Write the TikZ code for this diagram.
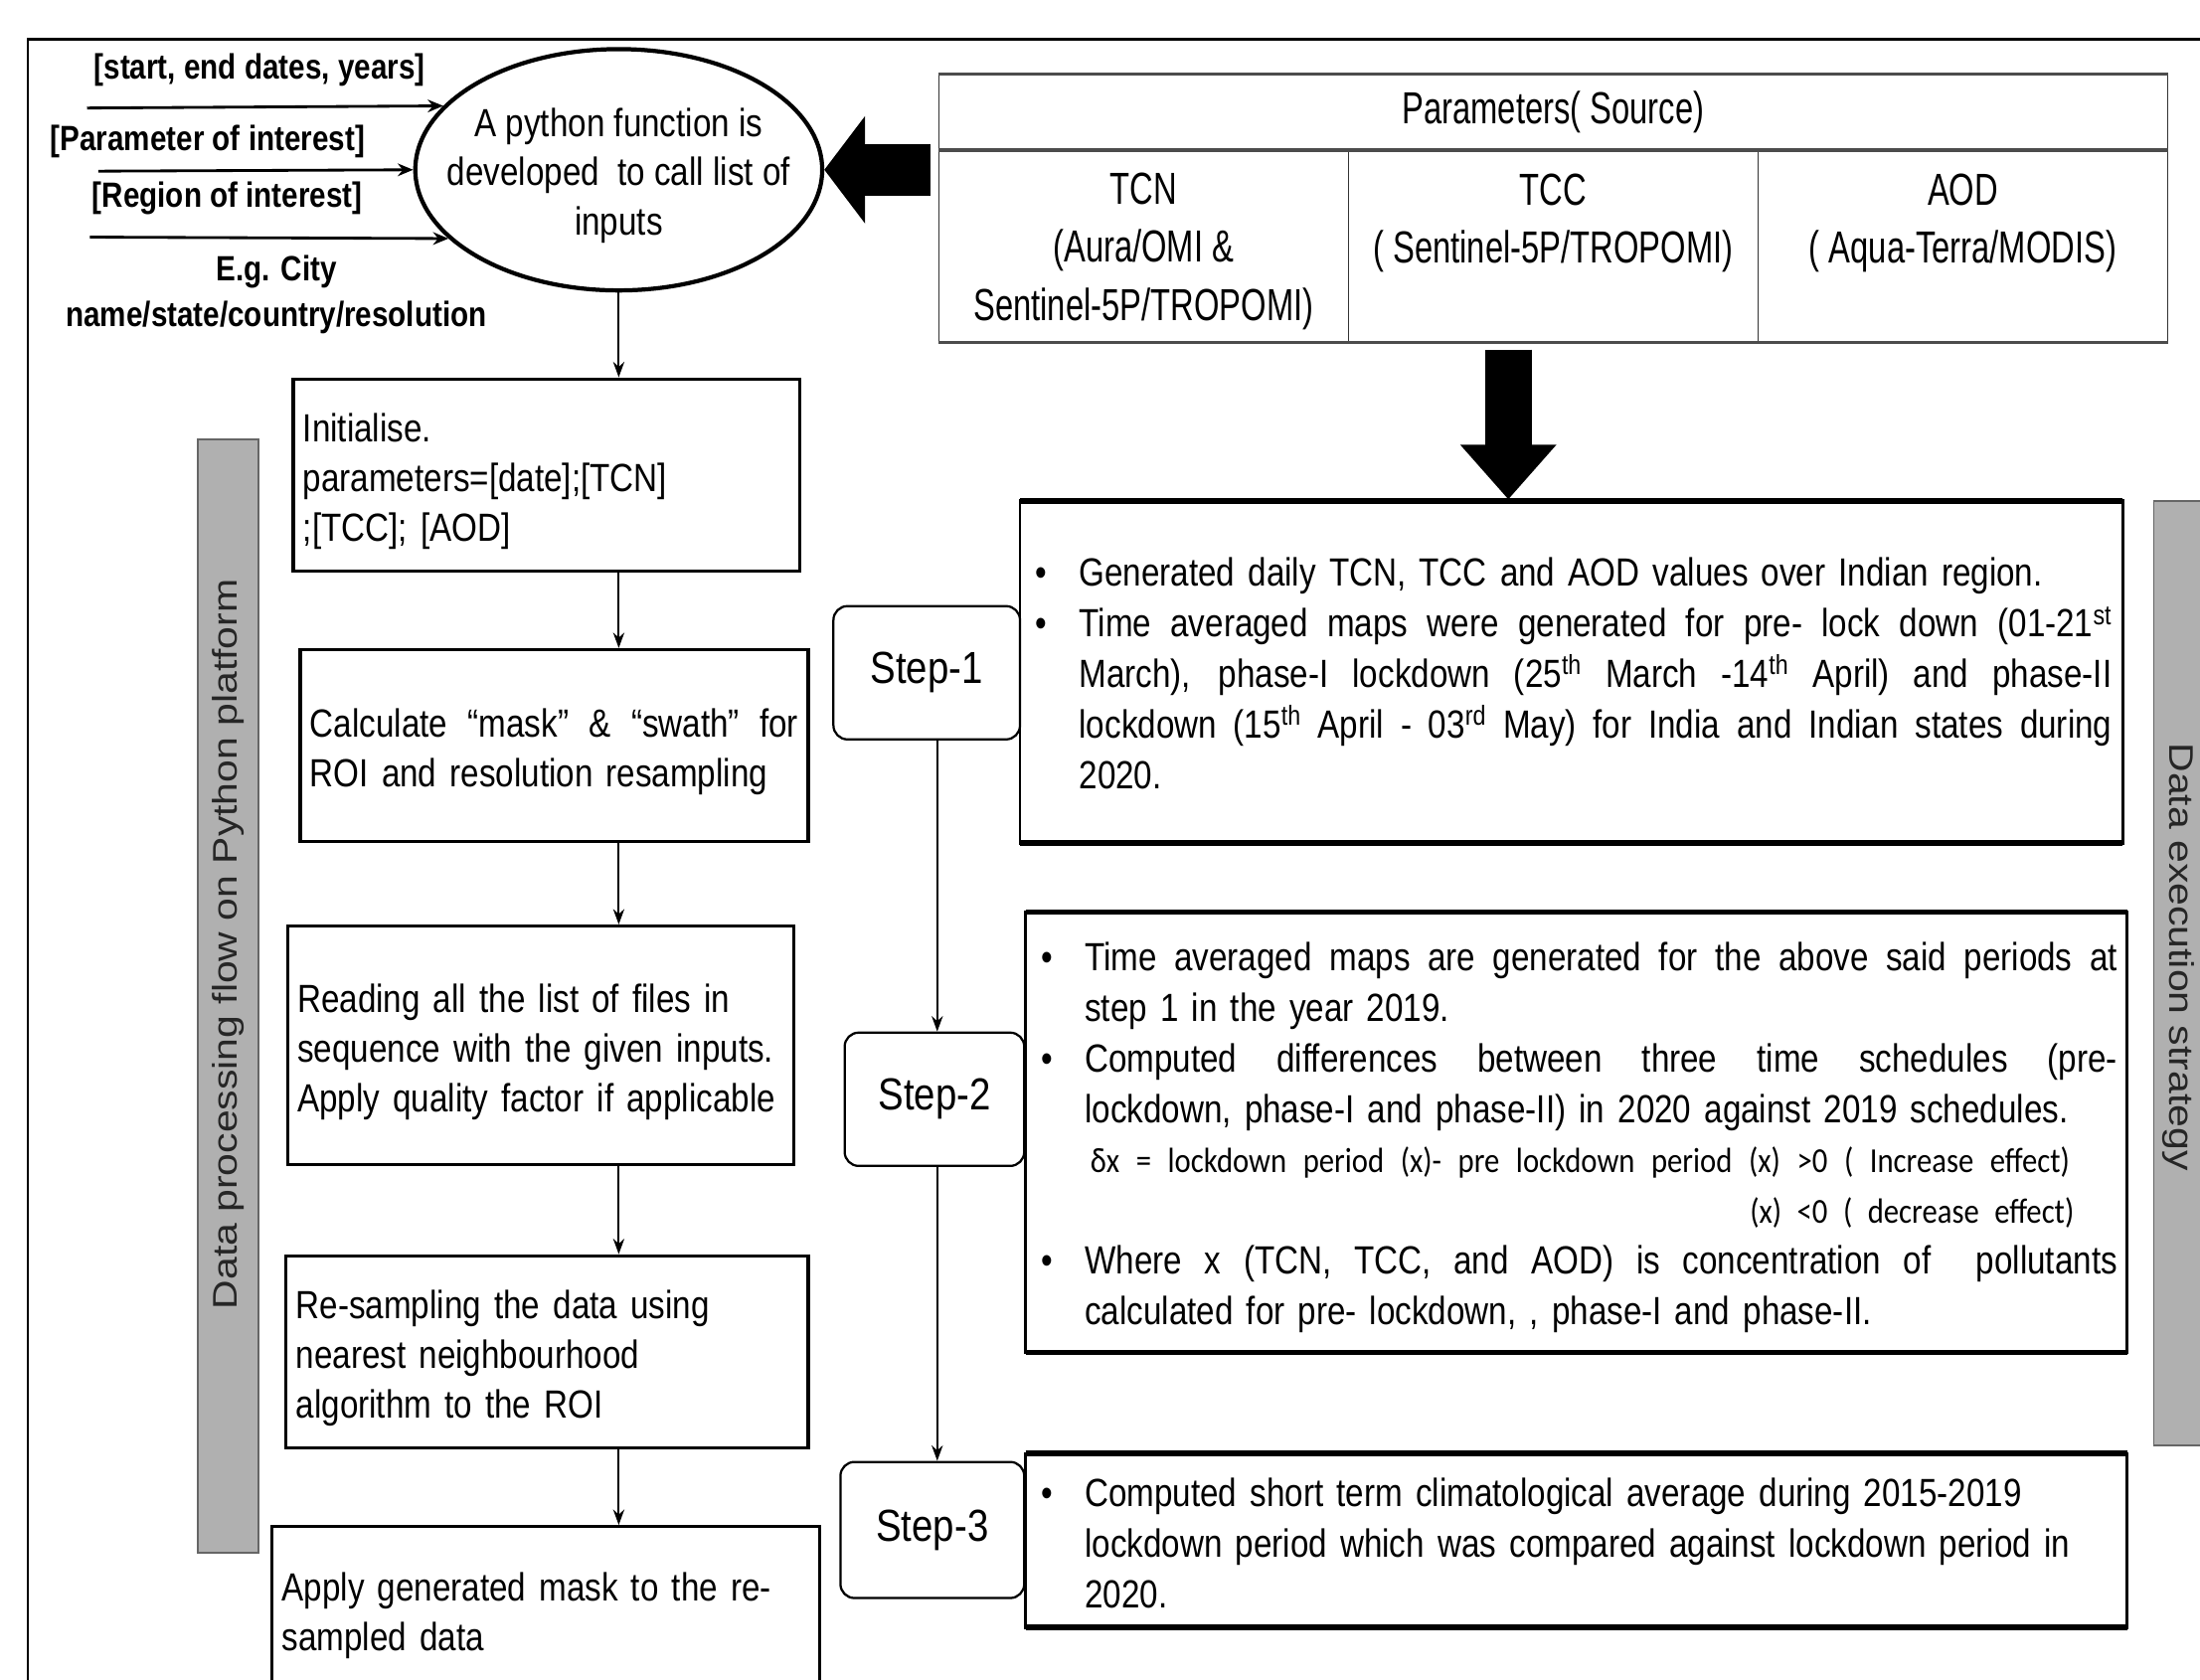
\documentclass[tikz,border=0pt]{standalone}
\usepackage{fontspec}
\setmainfont{Liberation Sans}
\newfontfamily\fN[FakeStretch=0.84]{Liberation Sans}
\newfontfamily\fT[FakeStretch=0.725]{Liberation Sans}
\newfontfamily\fS[FakeStretch=0.85]{Liberation Sans}
\newfontfamily\fC[FakeStretch=0.87]{Carlito}
\usetikzlibrary{shapes.geometric,arrows.meta,calc}
\hyphenpenalty=10000
\exhyphenpenalty=10000
\newcommand\jbox[2]{\makebox[#1][s]{\spaceskip=\fontdimen2\font plus 1fil\relax #2}}
\newcommand\mybj[1]{\makebox[31pt][l]{\textbullet}\jbox{736pt}{#1}}
\newcommand\mybl[1]{\makebox[31pt][l]{\textbullet}#1}
\newcommand\myj[1]{\hspace*{31pt}\jbox{736pt}{#1}}
\newcommand\myl[1]{\hspace*{31pt}#1}
\newcommand\lift{\rule{0pt}{29.5pt}}
\begin{document}
\begin{tikzpicture}[x=1pt,y=-1pt,
  lbox/.style={draw, line width=2.2pt, inner xsep=7pt, inner ysep=0pt, align=left, font=\fN\fontsize{28}{35.5}\selectfont},
  rbox/.style={draw, line width=2pt, inner sep=0pt},
  rtext/.style={anchor=base west, text width=767pt, align=left, inner sep=0pt, font=\fN\fontsize{28}{36}\selectfont},
  stepbox/.style={draw, line width=1.6pt, rounded corners=10pt, font=\fS\fontsize{32}{36}\selectfont, inner sep=0pt},
  lbl/.style={font=\fN\bfseries\fontsize{25}{32}\selectfont, align=center, inner sep=0pt},
  tcell/.style={font=\fT\fontsize{32}{41.5}\selectfont, align=center, inner sep=0pt},
  bar/.style={draw=black!60, line width=1.3pt, fill=black!31, inner sep=0pt},
  bartext/.style={font=\fontsize{29}{30}\selectfont, text=black!85, inner sep=0pt},
  conn/.style={line width=1.3pt, -{Stealth[length=11pt,width=8pt]}},
  inarr/.style={line width=2pt, -{Stealth[length=11pt,width=9pt]}},
  bigarr/.style={line width=37pt, -{Triangle[length=29pt,width=75pt]}},
  bigarrd/.style={line width=33pt, -{Triangle[length=39pt,width=66pt]}},
  tline/.style={line width=2.2pt, draw=black!70},
  tvline/.style={line width=1pt, draw=black!80},
]
\useasboundingbox (0,0) rectangle (1568,1197);
\fill[white] (0,0) rectangle (1568,1197);

% outer frame
\draw[line width=1.8pt] (20,1230) -- (20,28) -- (1600,28);

% gray side bars
\node[bar, minimum width=43pt, minimum height=794pt] (gl) at (162.5,710) {};
\node[bartext, rotate=90] (glt) at (163,673) {\scalebox{1}[0.84]{Data processing flow on Python platform}};
\node[bar, minimum width=60pt, minimum height=673pt] (gr) at (1565,693.5) {};
\node[bartext, rotate=-90] (grt) at (1553,682) {\scalebox{1}[0.84]{Data execution strategy}};

% ellipse
\node[ellipse, draw, line width=3pt, minimum width=290pt, minimum height=172pt, inner sep=0pt] (ell) at (441,121) {};
\node[font=\fN\fontsize{28}{35}\selectfont, align=center, inner sep=0pt] (ellt) at (441,125) {A python function is\\developed\ \ to call list of\\inputs};

% input labels and arrows
\node[lbl] (l1) at (185,50) {[start, end dates, years]};
\node[lbl] (l2) at (148,101) {[Parameter of interest]};
\node[lbl] (l3) at (162,141) {[Region of interest]};
\node[lbl] (l4) at (197,210) {E.g. City\\name/state/country/resolution};
\coordinate (i1) at (62,77);
\coordinate (i2) at (70,122);
\coordinate (i3) at (64,169);
\draw[inarr] (i1) -- (ell.160);
\draw[inarr] (i2) -- (ell.180);
\draw[inarr] (i3) -- (ell.202);

% table
\node[minimum width=876pt, minimum height=191pt, inner sep=0pt] (tbl) at (1107,148.5) {};
\draw[tvline] (669,53) -- (669,244);
\draw[tvline] (1545,53) -- (1545,244);
\draw[tvline] (961,107) -- (961,244);
\draw[tvline] (1253,107) -- (1253,244);
\draw[tline] (669,53) -- (1545,53);
\draw[tline] (669,107) -- (1545,107);
\draw[tline] (669,244) -- (1545,244);
\node[tcell] (th) at (1107,80) {Parameters( Source)};
\node[tcell] (c1) at (815,179) {TCN\\(Aura/OMI \&\\Sentinel-5P/TROPOMI)};
\node[tcell] (c2) at (1107,159) {TCC\\( Sentinel-5P/TROPOMI)};
\node[tcell] (c3) at (1399,159) {AOD\\( Aqua-Terra/MODIS)};

% left column boxes
\node[lbox, minimum width=361pt, minimum height=137pt, text width=347pt] (b1) at (389.5,338.5) {\lift Initialise.\\parameters=[date];[TCN]\\;[TCC]; [AOD]};
\node[lbox, minimum width=362pt, minimum height=137pt, text width=348pt] (b2) at (395,531.5) {\lift\jbox{348pt}{Calculate “mask” \& “swath” for}\\ROI and resolution resampling};
\node[lbox, minimum width=361pt, minimum height=170pt, text width=347pt] (b3) at (385.5,745) {\lift Reading all the list of files in\\sequence with the given inputs.\\Apply quality factor if applicable};
\node[lbox, minimum width=372pt, minimum height=137pt, text width=358pt] (b4) at (390,963.5) {\lift Re-sampling the data using\\nearest neighbourhood\\algorithm to the ROI};
\node[lbox, minimum width=390pt, minimum height=127pt, text width=376pt] (b5) at (389,1151.5) {Apply generated mask to the re-\\sampled data};

\draw[conn] (ell.south) -- (ell.south |- b1.north);
\draw[conn] (b1.south -| ell.south) -- (b2.north -| ell.south);
\draw[conn] (b2.south -| ell.south) -- (b3.north -| ell.south);
\draw[conn] (b3.south -| ell.south) -- (b4.north -| ell.south);
\draw[conn] (b4.south -| ell.south) -- (b5.north -| ell.south);

% right boxes
\node[rbox, minimum width=786pt, minimum height=244pt] (r1) at (1120,479) {};
\draw[line width=4pt] (727,357) -- (1513,357);
\draw[line width=4pt] (727,601) -- (1513,601);
\node[rtext] (r1t) at (738,418) {%
\mybl{Generated daily TCN, TCC and AOD values over Indian region.}\\
\mybj{Time averaged maps were generated for pre- lock down (01-21\textsuperscript{st}}\\
\myj{March), phase-I lockdown (25\textsuperscript{th} March -14\textsuperscript{th} April) and phase-II}\\
\myj{lockdown (15\textsuperscript{th} April - 03\textsuperscript{rd} May) for India and Indian states during}\\
\myl{2020.}};

\node[rbox, minimum width=785pt, minimum height=314pt] (r2) at (1123.5,807) {};
\draw[line width=4pt] (731,650) -- (1516,650);
\draw[line width=4pt] (731,964) -- (1516,964);
\node[rtext] (r2t) at (742,692) {%
\mybj{Time averaged maps are generated for the above said periods at}\\
\myl{step 1 in the year 2019.}\\
\mybj{Computed differences between three time schedules (pre-}\\
\myl{lockdown, phase-I and phase-II) in 2020 against 2019 schedules.}\\
\hspace*{35pt}{\fC\fontsize{25}{36}\selectfont\jbox{698pt}{\spaceskip=4pt plus 1fil δx = lockdown period (x)- pre lockdown period (x) >0 ( Increase effect)}}\\
\makebox[766pt][r]{{\fC\fontsize{25}{36}\selectfont\jbox{231pt}{\spaceskip=4pt plus 1fil (x) <0 ( decrease effect)}}\hspace*{30pt}}\\
\mybj{Where x (TCN, TCC, and AOD) is concentration of\ \ pollutants}\\
\myl{calculated for pre- lockdown, , phase-I and phase-II.}};

\node[rbox, minimum width=785pt, minimum height=124pt] (r3) at (1123.5,1098) {};
\draw[line width=4pt] (731,1036) -- (1516,1036);
\draw[line width=4pt] (731,1160) -- (1516,1160);
\node[rtext] (r3t) at (742,1074) {%
\mybl{Computed short term climatological average during 2015-2019}\\
\myl{lockdown period which was compared against lockdown period in}\\
\myl{2020.}};

% step boxes
\node[stepbox, fill=white, minimum width=133pt, minimum height=95pt] (s1) at (660.5,479.5) {Step-1};
\node[stepbox, fill=white, minimum width=128pt, minimum height=95pt] (s2) at (666,783.5) {Step-2};
\node[stepbox, fill=white, minimum width=131pt, minimum height=97pt] (s3) at (664.5,1090.5) {Step-3};
\coordinate (xs) at (668,0);
\draw[conn] (s1.south -| xs) -- (s2.north -| xs);
\draw[conn] (s2.south -| xs) -- (s3.north -| xs);

% big arrows
\coordinate (ya) at (0,121);
\coordinate (xd) at (1075,0);
\draw[bigarr] ($(tbl.west |- ya)+(-5.5,0)$) -- (ell.east |- ya);
\draw[bigarrd] ($(tbl.south -| xd)+(0,5)$) -- (r1.north -| xd);
\end{tikzpicture}
\end{document}
